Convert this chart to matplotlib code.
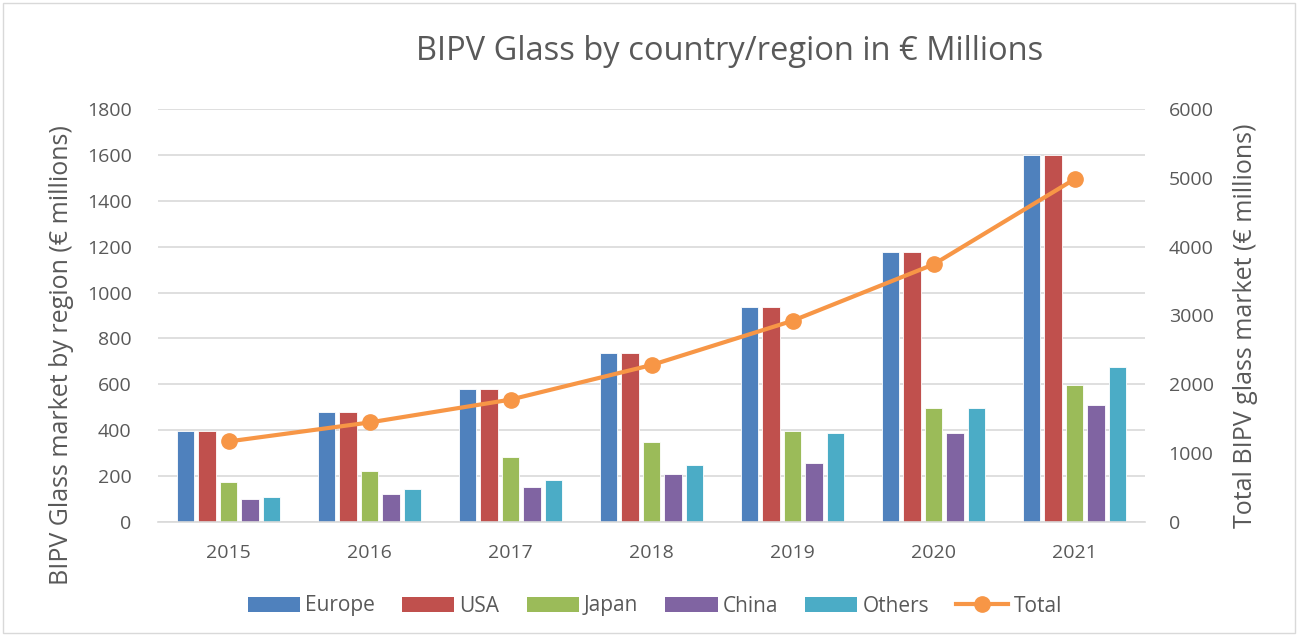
import matplotlib
matplotlib.use("Agg")
import matplotlib.pyplot as plt
from matplotlib.patches import Rectangle
from matplotlib.lines import Line2D
from matplotlib.patches import Patch
import numpy as np

plt.rcParams['font.family'] = ['Open Sans', 'DejaVu Sans']

years = ["2015", "2016", "2017", "2018", "2019", "2020", "2021"]
europe = [395, 478, 578, 738, 938, 1178, 1598]
usa = [395, 478, 578, 738, 938, 1178, 1598]
japan = [173, 222, 283, 349, 398, 497, 597]
china = [99, 122, 153, 208, 258, 389, 510]
others = [109, 144, 183, 247, 389, 497, 674]
total = [1170, 1446, 1778, 2280, 2923, 3742, 4980]

series_names = ["Europe", "USA", "Japan", "China", "Others"]
series_vals = [europe, usa, japan, china, others]
colors = ["#4F81BD", "#C0504D", "#9BBB59", "#8064A2", "#4BACC6"]
line_color = "#F79646"
text_color = "#595959"

fig = plt.figure(figsize=(12.98, 6.36), dpi=100)
ax = fig.add_axes([158/1298, 1-522/636, (1145-158)/1298, (522-109)/636])
x = np.arange(len(years))
pitch = 0.152
width = 0.125
for i, (name, vals, c) in enumerate(zip(series_names, series_vals, colors)):
    ax.bar(x + (i-2)*pitch, vals, width=width, color=c, label=name, zorder=2,
           edgecolor="white", linewidth=0.6)

ax.set_xlim(-0.5, len(years)-0.5)
ax.set_ylim(0, 1800)
ax.set_yticks(range(0, 1801, 200))
ax.set_xticks(x)
ax.set_xticklabels(years)
ax.grid(axis='y', color="#D9D9D9", linewidth=1.2, zorder=0)
ax.set_axisbelow(True)
for s in ["top", "right", "left"]:
    ax.spines[s].set_visible(False)
ax.spines["bottom"].set_color("#D9D9D9")
ax.spines["bottom"].set_linewidth(1.2)
ax.tick_params(axis='both', length=0, labelsize=14, colors=text_color)
ax.tick_params(axis='y', pad=19)
ax.tick_params(axis='x', pad=16)
ax.set_ylabel("BIPV Glass market by region (€ millions)", fontsize=18, color=text_color)
ax.yaxis.set_label_coords((74-158)/987, (522-355)/413)

ax2 = ax.twinx()
ax2.plot(x, total, color=line_color, linewidth=3, marker='o', markersize=11, zorder=5, label="Total")
ax2.set_ylim(0, 6000)
ax2.set_yticks(range(0, 6001, 1000))
for s in ["top", "right", "left", "bottom"]:
    ax2.spines[s].set_visible(False)
ax2.tick_params(axis='y', length=0, labelsize=14, colors=text_color, pad=17)
ax2.set_ylabel("Total BIPV glass market (€ millions)", fontsize=18, color=text_color)
ax2.yaxis.set_label_coords((1233-158)/987, (522-326)/413)

fig.text(730/1298, 1-52/636, "BIPV Glass by country/region in € Millions", ha='center', va='center',
         fontsize=23.5, color=text_color)

handles = [Patch(facecolor=c, label=n) for n, c in zip(series_names, colors)]
handles.append(Line2D([0], [0], color=line_color, linewidth=3, marker='o', markersize=11, label="Total"))
fig.legend(handles=handles, loc='center', bbox_to_anchor=(655/1298, 1-606/636), ncol=6, frameon=False,
           fontsize=15, labelcolor=text_color, handlelength=2.5, handleheight=0.7, columnspacing=1.3,
           handletextpad=0.25)

fig.patches.append(Rectangle((3/1298, 3/636), 1-6/1298, 1-6/636, transform=fig.transFigure,
                             fill=False, edgecolor="#D9D9D9", linewidth=1))

fig.savefig("out.png", dpi=100)
